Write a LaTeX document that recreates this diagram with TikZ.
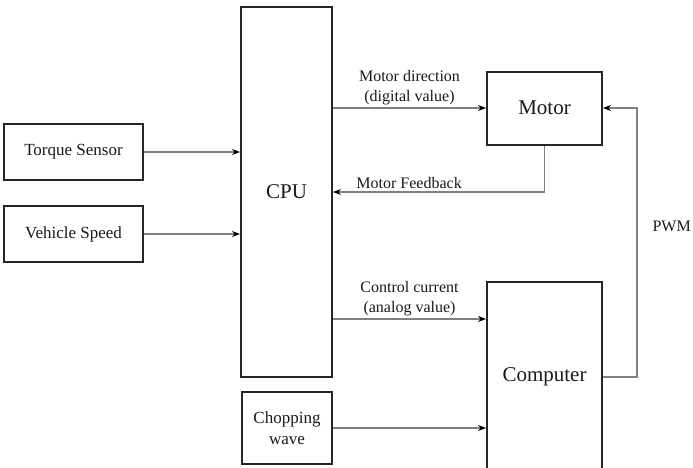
\documentclass[tikz,border=0pt]{standalone}
\usepackage{fontspec}
\setmainfont{Liberation Serif}
\newfontfamily\diagfont{Liberation Serif}
\usepackage{tikz}
\usetikzlibrary{
    arrows.meta,
    positioning,
    calc
}
\definecolor{boxline}{gray}{0.15}
\definecolor{wire}{gray}{0.5}
\definecolor{ink}{gray}{0.1}
\tikzset{
    % --- Input block (heavy border) ---
    input block/.style = {
        rectangle, draw=boxline, line width=2.6pt,
        minimum width=139pt, minimum height=56pt,
        font=\diagfont\fontsize{17}{21}\selectfont, text=ink, align=center
    },
    % --- Plain block ---
    block/.style = {
        rectangle, draw=boxline, line width=2pt,
        font=\diagfont\fontsize{17}{21}\selectfont, text=ink, align=center
    },
    % --- Large block (CPU, Motor, Computer) ---
    big block/.style = {
        block, font=\diagfont\fontsize{21}{25}\selectfont
    },
    % --- Signal label on wire ---
    signal/.style = {
        font=\diagfont\fontsize{16}{20}\selectfont, text=ink,
        align=center, inner sep=3pt
    },
    % --- Data flow arrow ---
    data arrow/.style = {
        draw=wire, line width=1.1pt,
        -{Stealth[length=8pt, width=6pt, black]}
    }
}

\begin{document}
\begin{tikzpicture}[x=1pt, y=-1pt]

\useasboundingbox (0,0) rectangle (693,467);
\clip (0,0) rectangle (693,467);

% ---------------------------------------------------------
% Inputs (left side)
% ---------------------------------------------------------
\node[input block] (Torque) at (73.5, 152) {Torque Sensor};
\node[input block] (Speed) at (73.5, 234) {Vehicle Speed};

% ---------------------------------------------------------
% CPU and chopping wave
% ---------------------------------------------------------
\node[big block, minimum width=91pt, minimum height=370pt] (CPU) at (286.5, 192) {CPU};
\node[block, minimum width=90pt, minimum height=72pt] (Chop) at (287, 428) {Chopping\\wave};

\draw[data arrow] (Torque) -- (Torque -| CPU.west);
\draw[data arrow] (Speed) -- (Speed -| CPU.west);

% ---------------------------------------------------------
% Motor and Computer
% ---------------------------------------------------------
\node[big block, minimum width=115pt, minimum height=73pt] (Motor) at (544.5, 108) {Motor};
\node[big block, minimum width=115pt, minimum height=190pt] (Comp) at (544.5, 377) {Computer};

\coordinate (CtrlIn) at ([yshift=58pt]Comp.west);

\draw[data arrow] (CPU.east |- Motor.west) -- (Motor.west)
    node[signal, midway, above] {Motor direction\\(digital value)};
\draw[data arrow] (Motor.south) |- (CPU.east)
    node[signal, pos=0.82, above] {Motor Feedback};
\draw[data arrow] (CPU.east |- CtrlIn) -- (CtrlIn)
    node[signal, midway, above] {Control current\\(analog value)};
\draw[data arrow] (Chop) -- (Chop -| Comp.west);

% PWM feedback to motor
\draw[data arrow] (Comp.east) -- ++(34,0) |- (Motor.east)
    node[signal, pos=0.28, right=12pt] {PWM};

\end{tikzpicture}
\end{document}
